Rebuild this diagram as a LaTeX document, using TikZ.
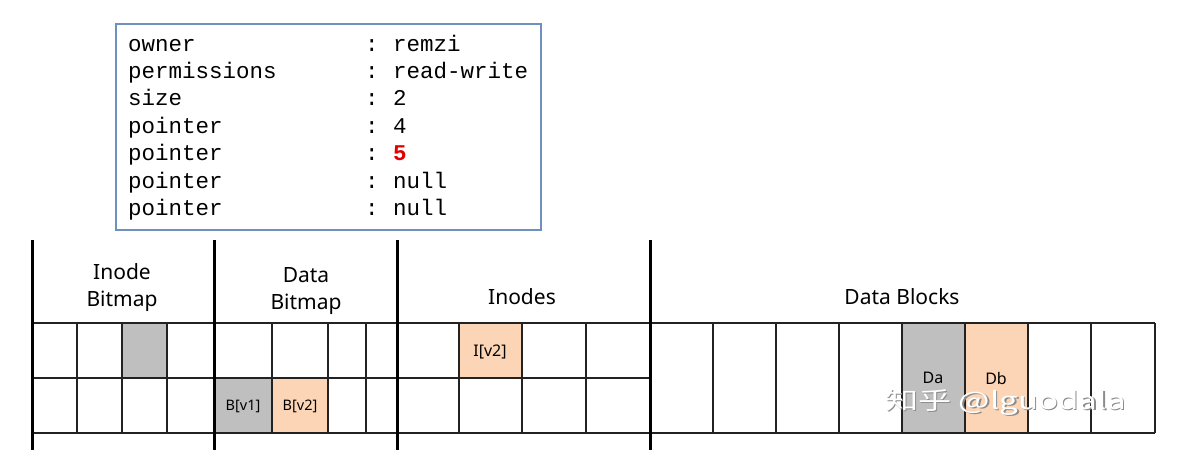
\documentclass[tikz,border=0pt]{standalone}
\usepackage{fontspec}
\setmainfont{Noto Sans}
\newfontfamily\monofont{Liberation Mono}
\newfontfamily\cjkfont{Noto Sans CJK SC}
\definecolor{boxblue}{HTML}{6F8FBF}
\definecolor{cellgray}{HTML}{BFBFBF}
\definecolor{cellorange}{HTML}{FBD5B5}
\definecolor{ptrred}{HTML}{E00000}
\definecolor{linegray}{HTML}{222222}
\tikzset{
  thick line/.style={line width=3pt, black},
  thin line/.style={line width=1.6pt, linegray},
  mono/.style={font=\monofont\fontsize{22.5}{24}\selectfont, anchor=base west, inner sep=0pt},
  head/.style={font=\fontsize{21}{27}\selectfont, align=center, inner sep=0pt},
  cell label/.style={font=\fontsize{16}{18}\selectfont, inner sep=0pt},
  watermark/.style={font=\cjkfont\fontsize{24}{26}\selectfont, inner sep=0pt, anchor=base west},
}
\begin{document}
\begin{tikzpicture}[x=1pt,y=-1pt]
\useasboundingbox (0,0) rectangle (1188,474);
% inode record box
\draw[boxblue, line width=1.6pt] (116,24) rectangle (541,230);
\foreach \k [count=\i from 0] in {owner, permissions, size, pointer, pointer, pointer, pointer}{
  \node[mono] (k\i) at (128,51+27.4*\i) {\k};
  \node[mono] (c\i) at (365,51+27.4*\i) {:};
}
\node[mono] (v0) at (393,51) {remzi};
\node[mono] (v1) at (393,78.4) {read-write};
\node[mono] (v2) at (393,105.8) {2};
\node[mono] (v3) at (393,133.2) {4};
\node[mono, text=ptrred, font=\monofont\bfseries\fontsize{22.5}{24}\selectfont] (v4) at (393,160.6) {5};
\node[mono] (v5) at (393,188) {null};
\node[mono] (v6) at (393,215.4) {null};
% fills
\fill[cellgray] (122,323) rectangle (167,378);
\fill[cellgray] (214,378) rectangle (272,433);
\fill[cellorange] (272,378) rectangle (328,433);
\fill[cellorange] (459,323) rectangle (522,378);
\fill[cellgray] (902,323) rectangle (965,433);
\fill[cellorange] (965,323) rectangle (1028,433);
% thin grid lines
\draw[thin line] (32,323) -- (1155,323);
\draw[thin line] (32,378) -- (650,378);
\draw[thin line] (32,433) -- (1155,433);
\foreach \x in {77,122,167,272,328,366,459,522,586}{
  \draw[thin line] (\x,323) -- (\x,433);
}
\foreach \x in {713,776,839,902,965,1028,1091,1155}{
  \draw[thin line] (\x,323) -- (\x,433);
}
% thick separators
\foreach \x in {32,214,397,650}{
  \draw[thick line] (\x,240) -- (\x,450);
}
% headings
\node[head] (hib) at (122,288) {Inode\\Bitmap};
\node[head] (hdb) at (306,291) {Data\\Bitmap};
\node[head] (hin) at (522,297) {Inodes};
\node[head] (hdbk) at (902,297) {Data Blocks};
% cell labels
\node[cell label, font=\fontsize{14.5}{16}\selectfont] (bv1) at (243,406) {B[v1]};
\node[cell label, font=\fontsize{14.5}{16}\selectfont] (bv2) at (300,406) {B[v2]};
\node[cell label] (iv2) at (490,352) {I[v2]};
\node[cell label] (da) at (933,378) {Da};
\node[cell label] (db) at (996,378) {Db};
% watermark
\node[watermark, text=black!45] (wms) at (886.5,410.5) {\scalebox{1.38}[1]{知乎 @lguodala}};
\node[watermark, text=white] (wm) at (885,409) {\scalebox{1.38}[1]{知乎 @lguodala}};
\end{tikzpicture}
\end{document}
